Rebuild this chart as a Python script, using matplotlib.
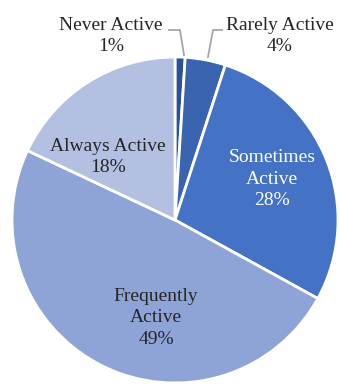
import matplotlib
matplotlib.use("Agg")
import matplotlib.pyplot as plt

labels = ["Never Active", "Rarely Active", "Sometimes\nActive", "Frequently\nActive", "Always Active"]
shares = [1, 4, 28, 49, 18]
colors = ["#2c5197", "#3a63b0", "#4472c4", "#8fa4d6", "#b4c0e2"]

plt.rcParams["font.family"] = ["Liberation Serif", "DejaVu Serif"]

W, H = 339, 385
fig = plt.figure(figsize=(W / 100, H / 100), dpi=100)
ax = fig.add_axes([0, 0, 1, 1])

cx, cy, r = 175, 220, 163
# y axis is flipped below, so counterclock=True draws clockwise on screen
ax.pie(shares, colors=colors, startangle=-90, counterclock=True,
       center=(cx, cy), radius=r, frame=True,
       wedgeprops=dict(edgecolor="white", linewidth=2))
ax.set_xlim(0, W)
ax.set_ylim(H, 0)
ax.set_aspect("equal")
ax.axis("off")

fs = 14
ls = 1.38
dark = "#262626"
label_pos = [(111, 36), (280, 36), (272, 179), (156, 318), (108, 157)]
label_col = [dark, dark, "white", dark, dark]
for lab, val, (x, y), c in zip(labels, shares, label_pos, label_col):
    ax.text(x, y, f"{lab}\n{val}%", ha="center", va="center",
            fontsize=fs, color=c, linespacing=ls)

# leader lines for the two thin slices
ax.plot([169, 180, 184], [30, 30, 55], color="#a6a6a6", lw=1.3)
ax.plot([222, 213, 208], [30, 30, 57], color="#a6a6a6", lw=1.3)

fig.savefig("out.png", dpi=100)
